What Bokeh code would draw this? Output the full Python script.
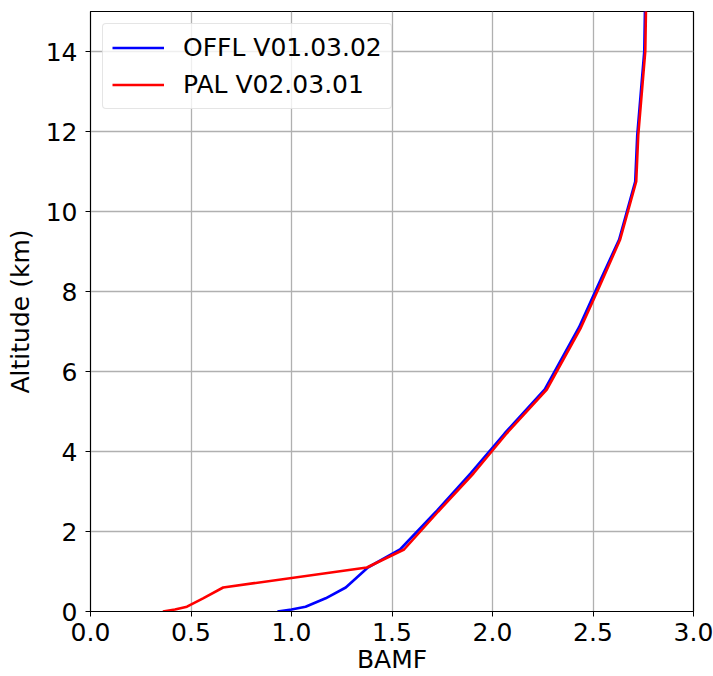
from bokeh.plotting import figure
from bokeh.models import Legend, LegendItem, FixedTicker
from bokeh.embed import file_html
from bokeh.resources import INLINE

# Altitude levels (km)
altitude = [0.0, 0.05, 0.12, 0.33, 0.6, 1.1, 1.55, 2.5, 3.45, 4.45, 5.55, 7.1, 8.1, 9.3, 10.75, 11.9, 14.0, 15.5]
# Box air mass factors
offl_bamf = [0.93, 1.0, 1.07, 1.17, 1.27, 1.38, 1.54, 1.72, 1.89, 2.06, 2.26, 2.43, 2.52, 2.63, 2.71, 2.72, 2.755, 2.76]
pal_bamf = [0.36, 0.42, 0.48, 0.56, 0.66, 1.375, 1.56, 1.73, 1.905, 2.07, 2.27, 2.44, 2.53, 2.635, 2.715, 2.725, 2.76, 2.765]

x_ticks = [0.0, 0.5, 1.0, 1.5, 2.0, 2.5, 3.0]
y_ticks = [0, 2, 4, 6, 8, 10, 12, 14]

FONT = "DejaVu Sans"
FS = "25px"

p = figure(width=713, height=676, x_range=(0, 3), y_range=(0, 15),
           frame_width=603, frame_height=600,
           min_border_left=90, min_border_right=20, min_border_top=11, min_border_bottom=60,
           output_backend="svg", toolbar_location=None)

p.outline_line_color = "black"
p.outline_line_width = 1.2
p.background_fill_color = "white"
p.border_fill_color = "white"

for ax in (p.xaxis[0], p.yaxis[0]):
    ax.major_label_text_font = FONT
    ax.major_label_text_font_size = FS
    ax.major_label_text_color = "black"
    ax.axis_label_text_font = FONT
    ax.axis_label_text_font_size = FS
    ax.axis_label_text_font_style = "normal"
    ax.axis_label_text_color = "black"
    ax.major_tick_in = 0
    ax.major_tick_out = 5
    ax.minor_tick_line_color = None
    ax.axis_line_color = "black"
    ax.major_tick_line_color = "black"

p.xaxis.ticker = FixedTicker(ticks=x_ticks)
p.yaxis.ticker = FixedTicker(ticks=y_ticks)
p.xaxis.major_label_overrides = {t: f"{t:.1f}" for t in x_ticks}
p.xaxis.axis_label = "BAMF"
p.yaxis.axis_label = "Altitude (km)"
p.xaxis.major_label_standoff = 6
p.yaxis.major_label_standoff = 8
p.xaxis.axis_label_standoff = 1
p.yaxis.axis_label_standoff = 8

p.grid.grid_line_color = "#b0b0b0"
p.grid.grid_line_width = 1.3

r1 = p.line(offl_bamf, altitude, line_color="blue", line_width=2.6)
r2 = p.line(pal_bamf, altitude, line_color="red", line_width=2.6)

legend = Legend(items=[LegendItem(label="OFFL V01.03.02", renderers=[r1]),
                       LegendItem(label="PAL V02.03.01", renderers=[r2])],
                location="top_left")
legend.label_text_font = FONT
legend.label_text_font_size = FS
legend.label_text_color = "black"
legend.glyph_width = 52
legend.glyph_height = 29
legend.label_height = 29
legend.label_standoff = 19
legend.spacing = 8
legend.padding = 9
legend.margin = 12
legend.border_line_color = "#cccccc"
legend.border_line_width = 1
legend.background_fill_alpha = 0.8
if hasattr(legend, "border_radius"):
    legend.border_radius = 4
p.add_layout(legend)

open("out.html", "w").write(file_html(p, INLINE))
